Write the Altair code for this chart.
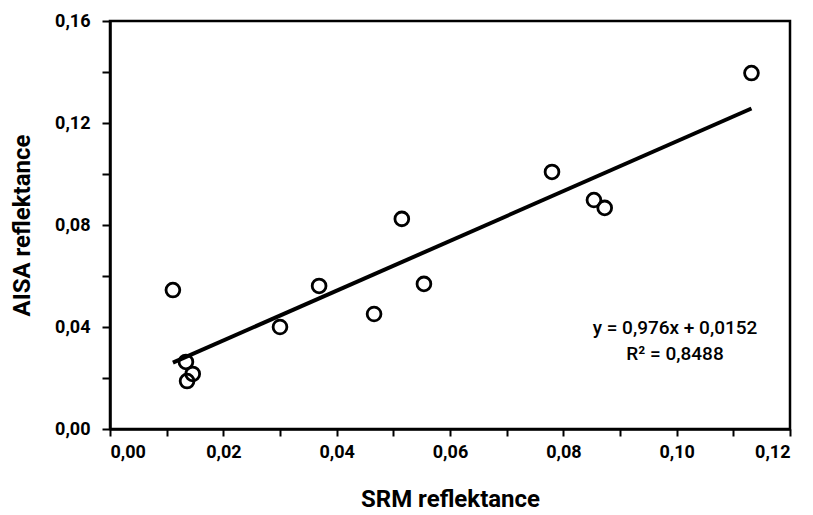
import altair as alt
import pandas as pd

srm = [0.0111, 0.0134, 0.0146, 0.0136, 0.0300, 0.0369, 0.0466, 0.0515, 0.0554, 0.0780, 0.0854, 0.0873, 0.1132]
aisa = [0.0545, 0.0263, 0.0216, 0.0188, 0.0400, 0.0561, 0.0451, 0.0824, 0.0569, 0.1008, 0.0898, 0.0867, 0.1396]
slope = 0.976
intercept = 0.0152
eq_lines = ["y = 0,976x + 0,0152", "R² = 0,8488"]
x_ticks = [round(i * 0.01, 2) for i in range(13)]
y_ticks = [round(i * 0.02, 2) for i in range(9)]

FONT = "Roboto"

pts = pd.DataFrame({"SRM": srm, "AISA": aisa})
xmin, xmax = min(srm), max(srm)
fit = pd.DataFrame({"SRM": [xmin, xmax], "AISA": [slope * xmin + intercept, slope * xmax + intercept]})

xscale = alt.Scale(domain=[0, 0.12], nice=False, zero=False)
yscale = alt.Scale(domain=[0, 0.16], nice=False, zero=False)

xaxis = alt.Axis(
    title="SRM reflektance", values=x_ticks, grid=False,
    labelExpr="(round(datum.value*100) % 2 == 0) ? replace(format(datum.value, '.2f'), '.', ',') : ''",
    labelOverlap=False, labelFont=FONT, labelFontSize=18, labelFontWeight="bold", labelColor="black",
    labelPadding=7, tickSize=7, tickWidth=2, tickColor="black", domainColor="black", domainWidth=2.5,
    titleFont=FONT, titleFontSize=24, titleFontWeight="bold", titleColor="black",
    titleX=340, titleY=70, titleBaseline="middle", titleAlign="center",
)
yaxis = alt.Axis(
    title="AISA reflektance", values=y_ticks, grid=False,
    labelExpr="(round(datum.value*100) % 4 == 0) ? replace(format(datum.value, '.2f'), '.', ',') : ''",
    labelOverlap=False, labelFont=FONT, labelFontSize=18, labelFontWeight="bold", labelColor="black",
    labelPadding=12, tickSize=8, tickWidth=2, tickColor="black", domainColor="black", domainWidth=2.5,
    titleFont=FONT, titleFontSize=24, titleFontWeight="bold", titleColor="black",
    titleX=-88, titleY=204, titleAngle=-90, titleBaseline="middle", titleAlign="center",
)

points = alt.Chart(pts).mark_point(shape="circle", filled=False, size=190, strokeWidth=2.8, color="black", opacity=1).encode(
    x=alt.X("SRM:Q", scale=xscale, axis=xaxis),
    y=alt.Y("AISA:Q", scale=yscale, axis=yaxis),
)
line = alt.Chart(fit).mark_line(color="black", strokeWidth=4).encode(
    x=alt.X("SRM:Q", scale=xscale),
    y=alt.Y("AISA:Q", scale=yscale),
)
eq1 = alt.Chart(pd.DataFrame({"t": [eq_lines[0]]})).mark_text(
    font=FONT, fontSize=19, fontWeight=500, color="black", align="center", baseline="middle"
).encode(x=alt.value(565), y=alt.value(307), text="t:N")
eq2 = alt.Chart(pd.DataFrame({"t": [eq_lines[1]]})).mark_text(
    font=FONT, fontSize=19, fontWeight=500, color="black", align="center", baseline="middle"
).encode(x=alt.value(565), y=alt.value(333), text="t:N")

chart = alt.layer(line, points, eq1, eq2).properties(
    width=680, height=408,
    autosize=alt.AutoSizeParams(type="none"),
    padding={"left": 102, "top": 13, "right": 15, "bottom": 85},
).configure_view(stroke="black", strokeWidth=2.5)

chart.save("out.html", embed_options={"renderer": "svg", "actions": False})
